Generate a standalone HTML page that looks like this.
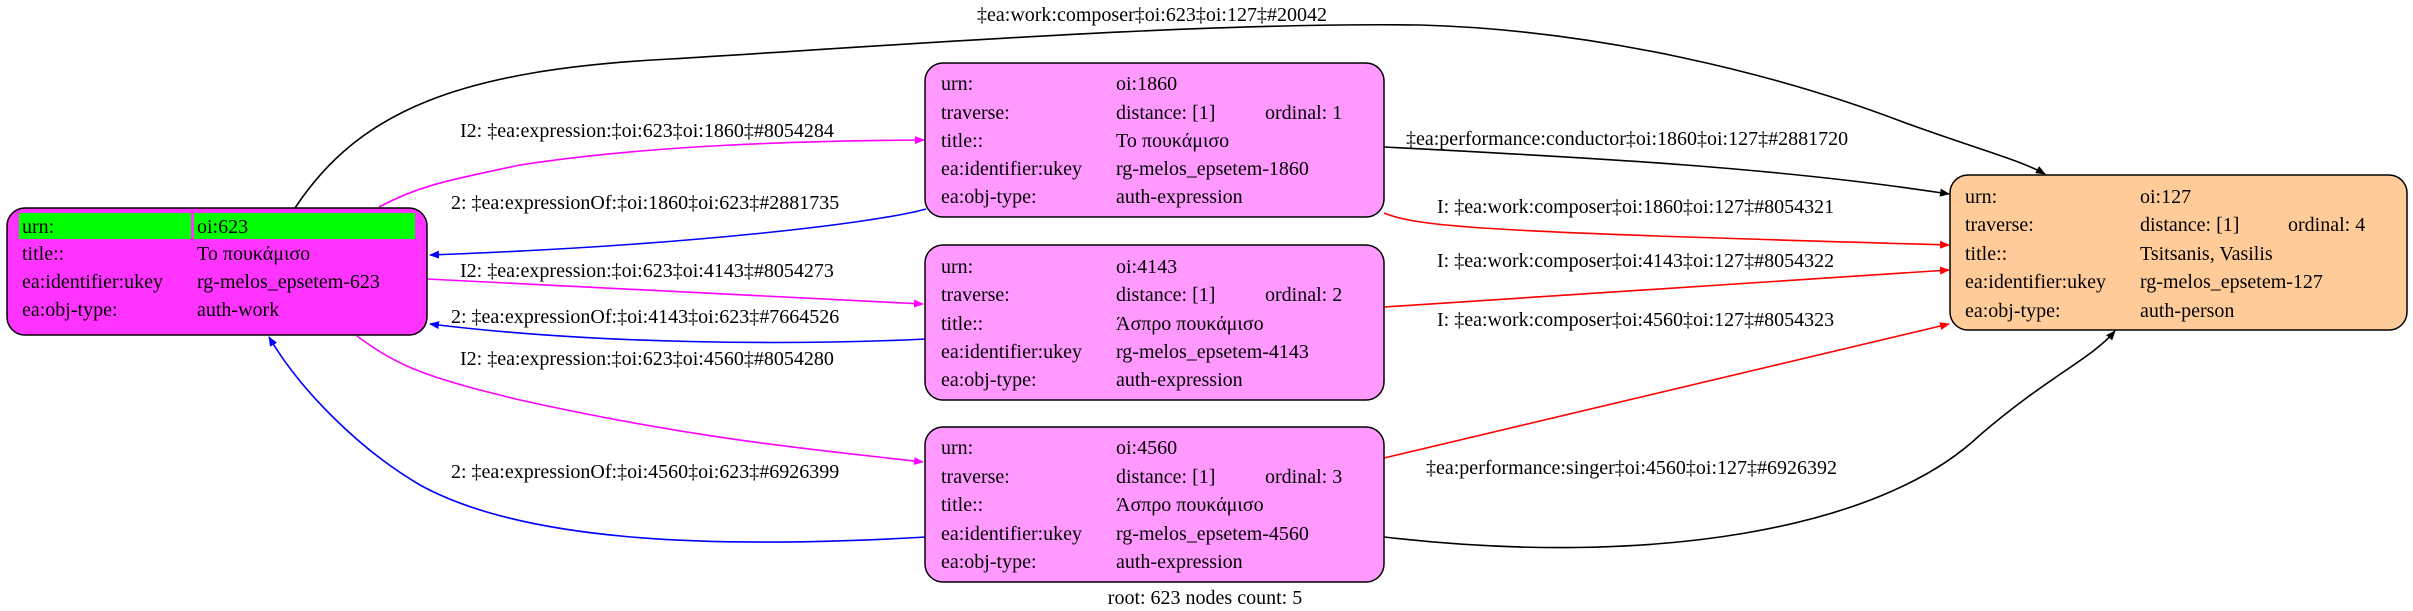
<!DOCTYPE html>
<html><head><meta charset="utf-8"><style>
html,body{margin:0;padding:0;background:#fff;}
svg{display:block;}
text{font-family:"Liberation Serif","DejaVu Serif",serif;font-size:20px;fill:#000;}
</style></head><body>
<svg width="2413" height="611" viewBox="0 0 2413 611" xmlns="http://www.w3.org/2000/svg">
<defs>
<marker id="ak" markerWidth="10" markerHeight="8" refX="9" refY="4" orient="auto" markerUnits="userSpaceOnUse"><path d="M0,0 L10,4 L0,8z" fill="#000"/></marker>
<marker id="am" markerWidth="10" markerHeight="8" refX="9" refY="4" orient="auto" markerUnits="userSpaceOnUse"><path d="M0,0 L10,4 L0,8z" fill="#f0f"/></marker>
<marker id="ab" markerWidth="10" markerHeight="8" refX="9" refY="4" orient="auto" markerUnits="userSpaceOnUse"><path d="M0,0 L10,4 L0,8z" fill="#00f"/></marker>
<marker id="ar" markerWidth="10" markerHeight="8" refX="9" refY="4" orient="auto" markerUnits="userSpaceOnUse"><path d="M0,0 L10,4 L0,8z" fill="#f00"/></marker>
</defs>
<g fill="none" stroke-width="1.6">
<path d="M295,208 C360,110 460,70 670,59 C900,45 1200,22 1420,25 C1600,30 1780,75 1903,122 C1980,150 2020,160 2045,174" stroke="#000" marker-end="url(#ak)"/>
<path d="M379,207 C420,185 450,180 520,165 C650,145 800,141 924,140" stroke="#f0f" marker-end="url(#am)"/>
<path d="M926,209 C880,222 700,245 430,255" stroke="#00f" marker-end="url(#ab)"/>
<path d="M427,279 L923,304" stroke="#f0f" marker-end="url(#am)"/>
<path d="M926,339 C800,345 600,345 430,324" stroke="#00f" marker-end="url(#ab)"/>
<path d="M357,336 C400,368 430,378 520,400 C700,440 820,450 923,462" stroke="#f0f" marker-end="url(#am)"/>
<path d="M926,537 C700,550 520,540 420,485 C360,450 300,390 269,337" stroke="#00f" marker-end="url(#ab)"/>
<path d="M1384,147 C1600,158 1780,168 1949,194" stroke="#000" marker-end="url(#ak)"/>
<path d="M1384,213 C1420,228 1500,232 1949,245" stroke="#f00" marker-end="url(#ar)"/>
<path d="M1384,307 L1949,270" stroke="#f00" marker-end="url(#ar)"/>
<path d="M1384,458 L1949,324" stroke="#f00" marker-end="url(#ar)"/>
<path d="M1384,537 C1650,568 1880,530 1980,435 C2050,375 2090,360 2115,331" stroke="#000" marker-end="url(#ak)"/>
</g>
<rect x="7" y="208" width="420" height="127" rx="18" fill="#ff33ff" stroke="#000" stroke-width="1.5"/>
<rect x="19" y="213" width="172" height="26" fill="#00ff00"/>
<rect x="194" y="213" width="221" height="26" fill="#00ff00"/>
<text x="22" y="233">urn:</text><text x="197" y="233">oi:623</text>
<text x="22" y="260">title::</text><text x="197" y="260">Το πουκάμισο</text>
<text x="22" y="288">ea:identifier:ukey</text><text x="197" y="288">rg-melos_epsetem-623</text>
<text x="22" y="316">ea:obj-type:</text><text x="197" y="316">auth-work</text>

<rect x="925" y="63" width="459" height="154" rx="18" fill="#ff99ff" stroke="#000" stroke-width="1.5"/>
<text x="941" y="90">urn:</text><text x="1116" y="90">oi:1860</text>
<text x="941" y="119">traverse:</text><text x="1116" y="119">distance: [1]</text><text x="1265" y="119">ordinal: 1</text>
<text x="941" y="147">title::</text><text x="1116" y="147">Το πουκάμισο</text>
<text x="941" y="175">ea:identifier:ukey</text><text x="1116" y="175">rg-melos_epsetem-1860</text>
<text x="941" y="203">ea:obj-type:</text><text x="1116" y="203">auth-expression</text>

<rect x="925" y="245" width="459" height="155" rx="18" fill="#ff99ff" stroke="#000" stroke-width="1.5"/>
<text x="941" y="273">urn:</text><text x="1116" y="273">oi:4143</text>
<text x="941" y="301">traverse:</text><text x="1116" y="301">distance: [1]</text><text x="1265" y="301">ordinal: 2</text>
<text x="941" y="330">title::</text><text x="1116" y="330">Άσπρο πουκάμισο</text>
<text x="941" y="358">ea:identifier:ukey</text><text x="1116" y="358">rg-melos_epsetem-4143</text>
<text x="941" y="386">ea:obj-type:</text><text x="1116" y="386">auth-expression</text>

<rect x="925" y="427" width="459" height="155" rx="18" fill="#ff99ff" stroke="#000" stroke-width="1.5"/>
<text x="941" y="454">urn:</text><text x="1116" y="454">oi:4560</text>
<text x="941" y="483">traverse:</text><text x="1116" y="483">distance: [1]</text><text x="1265" y="483">ordinal: 3</text>
<text x="941" y="511">title::</text><text x="1116" y="511">Άσπρο πουκάμισο</text>
<text x="941" y="540">ea:identifier:ukey</text><text x="1116" y="540">rg-melos_epsetem-4560</text>
<text x="941" y="568">ea:obj-type:</text><text x="1116" y="568">auth-expression</text>

<rect x="1950" y="175" width="457" height="155" rx="18" fill="#ffcc99" stroke="#000" stroke-width="1.5"/>
<text x="1965" y="203">urn:</text><text x="2140" y="203">oi:127</text>
<text x="1965" y="231">traverse:</text><text x="2140" y="231">distance: [1]</text><text x="2288" y="231">ordinal: 4</text>
<text x="1965" y="260">title::</text><text x="2140" y="260">Tsitsanis, Vasilis</text>
<text x="1965" y="288">ea:identifier:ukey</text><text x="2140" y="288">rg-melos_epsetem-127</text>
<text x="1965" y="317">ea:obj-type:</text><text x="2140" y="317">auth-person</text>

<text x="1152" y="21" text-anchor="middle">‡ea:work:composer‡oi:623‡oi:127‡#20042</text>
<text x="460" y="137">I2: ‡ea:expression:‡oi:623‡oi:1860‡#8054284</text>
<text x="451" y="209">2: ‡ea:expressionOf:‡oi:1860‡oi:623‡#2881735</text>
<text x="460" y="277">I2: ‡ea:expression:‡oi:623‡oi:4143‡#8054273</text>
<text x="451" y="323">2: ‡ea:expressionOf:‡oi:4143‡oi:623‡#7664526</text>
<text x="460" y="365">I2: ‡ea:expression:‡oi:623‡oi:4560‡#8054280</text>
<text x="451" y="478">2: ‡ea:expressionOf:‡oi:4560‡oi:623‡#6926399</text>
<text x="1406" y="145">‡ea:performance:conductor‡oi:1860‡oi:127‡#2881720</text>
<text x="1437" y="213">I: ‡ea:work:composer‡oi:1860‡oi:127‡#8054321</text>
<text x="1437" y="267">I: ‡ea:work:composer‡oi:4143‡oi:127‡#8054322</text>
<text x="1437" y="326">I: ‡ea:work:composer‡oi:4560‡oi:127‡#8054323</text>
<text x="1426" y="474">‡ea:performance:singer‡oi:4560‡oi:127‡#6926392</text>
<text x="1205" y="604" text-anchor="middle">root: 623 nodes count: 5</text>
</svg>
</body></html>
